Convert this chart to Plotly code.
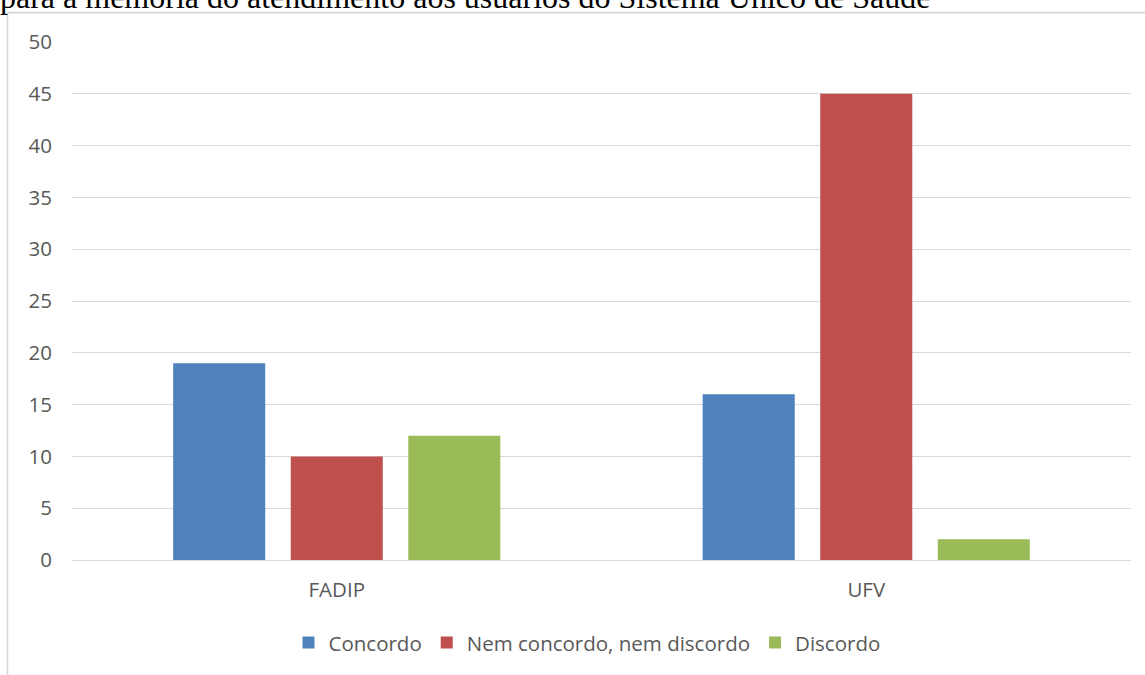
import plotly.graph_objects as go

categories = ["FADIP", "UFV"]
series_names = ["Concordo", "Nem concordo, nem discordo", "Discordo"]
concordo = [19, 16]
nem = [10, 45]
discordo = [12, 2]
colors = ["#4F81BD", "#C0504D", "#9BBB59"]
title_text = "para a memória do atendimento aos usuários do Sistema Único de Saúde"

W, H = 1145, 675
L, R, T, B = 72, 14, 42, 113
pw = W - L - R
ph = H - T - B
FS = 20.5
GRAY = "#595959"

fig = go.Figure()
for name, vals, c in zip(series_names, [concordo, nem, discordo], colors):
    fig.add_trace(go.Bar(x=categories, y=vals, name=name, marker=dict(color=c, line=dict(width=0))))

def px_x(p):
    return (p - L) / pw

def px_y(p):
    return 1 - (p - T) / ph

fig.update_layout(
    width=W, height=H,
    margin=dict(l=L, r=R, t=T, b=B, pad=0),
    paper_bgcolor="white", plot_bgcolor="white",
    barmode="group", bargap=0.334, bargroupgap=0.217,
    font=dict(family="Open Sans, Liberation Sans, sans-serif", color=GRAY, size=FS),
    xaxis=dict(showgrid=False, showline=False, ticks="", ticklabelstandoff=15,
               tickfont=dict(size=FS, color=GRAY)),
    yaxis=dict(range=[0, 50], dtick=5, showgrid=True, gridcolor="#D9D9D9", gridwidth=1,
               zeroline=True, zerolinecolor="#D9D9D9", zerolinewidth=1,
               showline=False, ticks="", ticklabelstandoff=19,
               tickfont=dict(size=FS, color=GRAY)),
    legend=dict(orientation="h", x=px_x(587), xanchor="center", y=px_y(645), yanchor="middle",
                font=dict(size=FS, color=GRAY), traceorder="normal",
                bgcolor="rgba(0,0,0,0)"),
    showlegend=True,
)

# chart border (light gray) partially cropped
fig.add_shape(type="line", xref="paper", yref="paper",
              x0=px_x(7.5), x1=px_x(W + 10), y0=px_y(12.5), y1=px_y(12.5),
              line=dict(color="#D6D6D6", width=1.6))
fig.add_shape(type="line", xref="paper", yref="paper",
              x0=px_x(7.5), x1=px_x(7.5), y0=px_y(12.5), y1=px_y(H + 10),
              line=dict(color="#D6D6D6", width=1.6))

fig.add_annotation(text=title_text, xref="paper", yref="paper",
                   x=px_x(-2), xanchor="left", y=px_y(16.5), yanchor="bottom",
                   showarrow=False, font=dict(family="Liberation Serif, serif", size=32, color="black"))

fig.write_html("out.html", config={"displayModeBar": False},
               post_script="document.body.style.margin='0';")
